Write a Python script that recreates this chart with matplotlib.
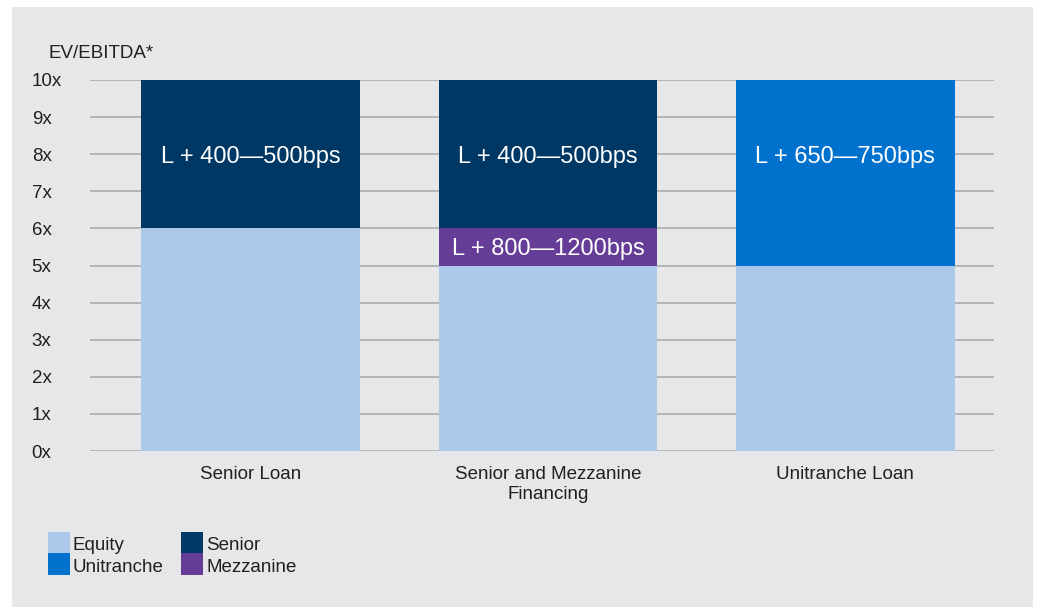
import matplotlib
matplotlib.use("Agg")
import matplotlib.pyplot as plt
from matplotlib.patches import Rectangle

plt.rcParams['font.family'] = ['Liberation Sans', 'DejaVu Sans']

categories = ["Senior Loan", "Senior and Mezzanine\nFinancing", "Unitranche Loan"]
equity = [6, 5, 5]
mezzanine = [0, 1, 0]
senior = [4, 4, 0]
unitranche = [0, 0, 5]
tick_values = list(range(0, 11))
tick_labels = [f"{v}x" for v in tick_values]
spread_labels = ["L + 400\u2014500bps", "L + 400\u2014500bps", "L + 650\u2014750bps"]
mezz_label = "L + 800\u20141200bps"

C_EQUITY = "#adc8e9"
C_SENIOR = "#003865"
C_UNI = "#0072ce"
C_MEZZ = "#653d97"
BG = "#e6e7e9"
TXT = "#231f20"

W, H = 1038, 610
fig = plt.figure(figsize=(W / 100, H / 100), dpi=100)
fig.patch.set_facecolor("white")
fig.patches.append(Rectangle((12 / W, 3 / H), 1021 / W, 600 / H, transform=fig.transFigure,
                             facecolor=BG, edgecolor="none", zorder=-5))

ax = fig.add_axes([90 / W, 1 - 451 / H, 904 / W, 371 / H])
ax.set_facecolor("none")
x = list(range(len(categories)))
bw = 0.736

bottoms = [0] * len(x)
for vals, col in [(equity, C_EQUITY), (mezzanine, C_MEZZ), (senior, C_SENIOR), (unitranche, C_UNI)]:
    ax.bar(x, vals, bw, bottom=bottoms, color=col, zorder=2, linewidth=0)
    bottoms = [b + v for b, v in zip(bottoms, vals)]

ax.set_ylim(0, 10)
ax.set_xlim(-0.54, 2.5)
ax.set_yticks(tick_values)
ax.set_yticklabels(tick_labels, fontsize=13.5, color=TXT, ha="left")
ax.tick_params(axis="y", length=0, pad=42)
ax.set_xticks(x)
ax.set_xticklabels(categories, fontsize=13.5, color=TXT, linespacing=1.2)
ax.tick_params(axis="x", length=0, pad=11)
ax.grid(axis="y", color="#b4b5b7", linewidth=1.4, zorder=1)
ax.set_axisbelow(True)
for s in ax.spines.values():
    s.set_visible(False)

for i, lab in enumerate(spread_labels):
    ax.text(x[i], 8, lab, ha="center", va="center_baseline", color="white",
            fontsize=17, zorder=3)
ax.text(x[1], equity[1] + mezzanine[1] / 2, mezz_label, ha="center", va="center_baseline",
        color="white", fontsize=17, zorder=3)

fig.text(48 / W, 1 - 54 / H, "EV/EBITDA*", fontsize=13.5, color=TXT, va="center", ha="left")

legend_items = [("Equity", C_EQUITY, 48, 532), ("Unitranche", C_UNI, 48, 553),
                ("Senior", C_SENIOR, 181, 532), ("Mezzanine", C_MEZZ, 181, 553)]
for name, col, lx, ly in legend_items:
    fig.patches.append(Rectangle((lx / W, 1 - (ly + 22) / H), 22 / W, 22 / H,
                                 transform=fig.transFigure, facecolor=col, edgecolor="none"))
    fig.text((lx + 25) / W, 1 - (ly + 14) / H, name, fontsize=13.5, color=TXT,
             va="center", ha="left")

fig.savefig("out.png", dpi=100, facecolor=fig.get_facecolor())
